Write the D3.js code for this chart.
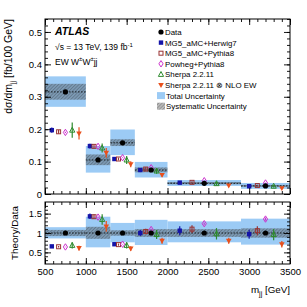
<!DOCTYPE html>
<html><head><meta charset="utf-8">
<script src="https://cdn.jsdelivr.net/npm/d3@7"></script>
<style>
body{margin:0;background:#fff}
svg{display:block}
text{font-family:"Liberation Sans",Arial,Helvetica,sans-serif;fill:#000}
</style>
</head><body>
<svg id="c" width="307" height="307"></svg>
<script>
// ---------- data ----------
const binEdges = [500, 1000, 1300, 1600, 2000, 2900, 3500];
const xTicks = [500, 1000, 1500, 2000, 2500, 3000, 3500];
const yTopTicks = [0, 0.1, 0.2, 0.3, 0.4, 0.5];
const yRatioTicks = [0.5, 1, 1.5];

const dataVals = [0.315, 0.105, 0.158, 0.074, 0.033, 0.025];
const totalLo  = [0.269, 0.066, 0.120, 0.051, 0.025, 0.016];
const totalHi  = [0.363, 0.148, 0.199, 0.099, 0.043, 0.034];
const sysLo    = [0.291, 0.089, 0.148, 0.067, 0.030, 0.022];
const sysHi    = [0.340, 0.122, 0.169, 0.082, 0.037, 0.028];

const ratioTotalLo = [0.86, 0.63, 0.76, 0.69, 0.76, 0.70];
const ratioTotalHi = [1.15, 1.42, 1.26, 1.34, 1.30, 1.37];
const ratioSysLo   = [0.92, 0.85, 0.93, 0.90, 0.90, 0.88];
const ratioSysHi   = [1.08, 1.16, 1.07, 1.10, 1.10, 1.12];

const modelNames = ["MG5_aMC+Herwig7", "MG5_aMC+Pythia8", "Powheg+Pythia8", "Sherpa 2.2.11", "Sherpa 2.2.11 \u2297 NLO EW"];
const herwig = [0.197, 0.148, 0.108, 0.074, 0.035, 0.024];
const pythia = [0.192, 0.147, 0.108, 0.077, 0.036, 0.026];
const powheg = [0.190, 0.147, 0.112, 0.081, 0.041, 0.034];
const sherpa = [0.197, 0.142, 0.105, 0.071, 0.032, 0.024];
const nloew  = [0.187, 0.127, 0.092, 0.059, 0.026, 0.018];

const herwigRatio = [0.655, 1.43, 0.71, 1.00, 1.06, 0.97];
const pythiaRatio = [0.645, 1.42, 0.70, 1.04, 1.10, 1.06];
const powhegRatio = [0.640, 1.41, 0.71, 1.09, 1.24, 1.36];
const sherpaRatio = [0.680, 1.35, 0.68, 0.96, 0.98, 0.96];
const nloewRatio  = [0.610, 1.17, 0.60, 0.80, 0.80, 0.71];

// relative uncertainties of predictions
const herwigErr = [0.04, 0.05, 0.05, 0.08, 0.11, 0.12];
const pythiaErr = [0.03, 0.04, 0.04, 0.07, 0.09, 0.11];
const powhegErr = [0.01, 0.01, 0.01, 0.02, 0.02, 0.03];
const sherpaErr = [0.12, 0.10, 0.12, 0.12, 0.15, 0.15];
const nloewErr  = [0.10, 0.12, 0.10, 0.10, 0.10, 0.12];

// ---------- style ----------
const colors = ["#1414a8", "#993333", "#cc33cc", "#2e8b2e", "#e8501c"];
const shapes = ["squareFilled", "squareOpen", "diamondOpen", "triUpOpen", "triDownFilled"];
const blue = "#9ccbf5";

const models = modelNames.map((n, i) => ({
  name: n, color: colors[i], shape: shapes[i],
  vals: [herwig, pythia, powheg, sherpa, nloew][i],
  ratio: [herwigRatio, pythiaRatio, powhegRatio, sherpaRatio, nloewRatio][i],
  err: [herwigErr, pythiaErr, powhegErr, sherpaErr, nloewErr][i]
}));

const bins = d3.range(dataVals.length).map(i => ({lo: binEdges[i], hi: binEdges[i + 1]}));

const svg = d3.select("#c");
const defs = svg.append("defs");
const pat = defs.append("pattern").attr("id", "hatch").attr("patternUnits", "userSpaceOnUse")
  .attr("width", 2.4).attr("height", 2.4).attr("patternTransform", "rotate(45)");
pat.append("rect").attr("width", 2.4).attr("height", 2.4).attr("fill", "rgba(70,70,70,0.38)");
pat.append("line").attr("x1", 0).attr("y1", 0).attr("x2", 0).attr("y2", 2.4)
  .attr("stroke", "rgba(20,20,20,0.45)").attr("stroke-width", 0.9);

const L = 45, R = 290;
const x = d3.scaleLinear().domain([500, 3500]).range([L, R]);
const yT = d3.scaleLinear().domain([0, 0.54]).range([194, 19]);
const yR = d3.scaleLinear().domain([0.2, 1.8]).range([264, 202]);

function marker(g, shape, cx, cy, color) {
  const t = `translate(${cx},${cy})`;
  switch (shape) {
    case "circle": g.append("circle").attr("cx", cx).attr("cy", cy).attr("r", 2.6).attr("fill", "#000"); break;
    case "squareFilled": g.append("rect").attr("x", cx - 2.2).attr("y", cy - 2.2).attr("width", 4.4).attr("height", 4.4).attr("fill", color); break;
    case "squareOpen": g.append("rect").attr("x", cx - 2).attr("y", cy - 2).attr("width", 4).attr("height", 4).attr("fill", "none").attr("stroke", color).attr("stroke-width", 1); break;
    case "diamondOpen": g.append("path").attr("transform", t).attr("d", "M0,-3.2L2.1,0L0,3.2L-2.1,0Z").attr("fill", "none").attr("stroke", color).attr("stroke-width", 1); break;
    case "triUpOpen": g.append("path").attr("transform", t).attr("d", "M0,-2.9L2.6,2L-2.6,2Z").attr("fill", "none").attr("stroke", color).attr("stroke-width", 1); break;
    case "triDownFilled": g.append("path").attr("transform", t).attr("d", "M0,2.9L2.8,-2L-2.8,-2Z").attr("fill", color); break;
  }
}

function drawPanel(yS, lo, hi, slo, shi, center, mvals) {
  const g = svg.append("g");
  g.selectAll(".tot").data(bins).join("rect")
    .attr("x", d => x(d.lo)).attr("width", d => x(d.hi) - x(d.lo))
    .attr("y", (d, i) => yS(hi[i])).attr("height", (d, i) => yS(lo[i]) - yS(hi[i]))
    .attr("fill", blue);
  g.selectAll(".sys").data(bins).join("rect")
    .attr("x", d => x(d.lo)).attr("width", d => x(d.hi) - x(d.lo))
    .attr("y", (d, i) => yS(shi[i])).attr("height", (d, i) => yS(slo[i]) - yS(shi[i]))
    .attr("fill", "url(#hatch)");
  g.selectAll(".dl").data(bins).join("line")
    .attr("x1", d => x(d.lo)).attr("x2", d => x(d.hi))
    .attr("y1", (d, i) => yS(center[i])).attr("y2", (d, i) => yS(center[i]))
    .attr("stroke", "#000").attr("stroke-width", 0.8).attr("stroke-dasharray", "1.6,1.4");
  models.forEach((m, k) => {
    const vals = mvals(m);
    bins.forEach((b, i) => {
      const px = x(b.lo + (k + 1) / 6 * (b.hi - b.lo));
      const v = vals[i], e = v * m.err[i];
      g.append("line").attr("x1", px).attr("x2", px).attr("y1", yS(v + e)).attr("y2", yS(v - e))
        .attr("stroke", m.color).attr("stroke-width", 1.2);
      marker(g, m.shape, px, yS(v), m.color);
    });
  });
  bins.forEach((b, i) => marker(g, "circle", x((b.lo + b.hi) / 2), yS(center[i]), "#000"));
}

drawPanel(yT, totalLo, totalHi, sysLo, sysHi, dataVals, m => m.vals);
drawPanel(yR, ratioTotalLo, ratioTotalHi, ratioSysLo, ratioSysHi, dataVals.map(() => 1), m => m.ratio);

// ---------- axes ----------
function frame(yS, top, bottom, yMajor, yMinor, showX) {
  const ax = svg.append("g");
  const minorX = d3.range(500, 3501, 100);
  const add = (axis, tr, labels) => {
    const a = ax.append("g").attr("transform", tr).call(axis);
    a.select(".domain").remove();
    a.selectAll("text").attr("font-family", '"Liberation Sans",Arial,sans-serif').attr("font-size", 9.5);
    if (!labels) a.selectAll("text").remove();
    a.selectAll("line").attr("stroke-width", 0.9);
    return a;
  };
  add(d3.axisBottom(x).tickValues(xTicks).tickSize(-6).tickSizeOuter(0).tickPadding(4).tickFormat(d3.format("d")), `translate(0,${bottom})`, showX);
  add(d3.axisBottom(x).tickValues(minorX).tickSize(-3).tickSizeOuter(0).tickFormat(""), `translate(0,${bottom})`, false);
  add(d3.axisTop(x).tickValues(xTicks).tickSize(-6).tickSizeOuter(0), `translate(0,${top})`, false);
  add(d3.axisTop(x).tickValues(minorX).tickSize(-3).tickSizeOuter(0).tickFormat(""), `translate(0,${top})`, false);
  add(d3.axisLeft(yS).tickValues(yMajor).tickSize(-6).tickSizeOuter(0).tickPadding(3).tickFormat(d3.format("~g")), `translate(${L},0)`, true);
  add(d3.axisLeft(yS).tickValues(yMinor).tickSize(-3).tickSizeOuter(0).tickFormat(""), `translate(${L},0)`, false);
  add(d3.axisRight(yS).tickValues(yMajor).tickSize(-6).tickSizeOuter(0), `translate(${R},0)`, false);
  add(d3.axisRight(yS).tickValues(yMinor).tickSize(-3).tickSizeOuter(0).tickFormat(""), `translate(${R},0)`, false);
  svg.append("rect").attr("x", L).attr("y", top).attr("width", R - L).attr("height", bottom - top)
    .attr("fill", "none").attr("stroke", "#000").attr("stroke-width", 1);
}
frame(yT, 19, 194, yTopTicks, d3.range(0, 0.541, 0.02), false);
frame(yR, 202, 264, yRatioTicks, d3.range(0.3, 1.75, 0.1), true);

// ---------- titles ----------
const yt = svg.append("text").attr("transform", "translate(12,19) rotate(-90)")
  .attr("text-anchor", "end").attr("font-size", 10.5);
yt.append("tspan").text("d\u03c3/dm");
yt.append("tspan").attr("font-size", 7).attr("dy", 2.5).text("jj");
yt.append("tspan").attr("dy", -2.5).text(" [fb/100 GeV]");

svg.append("text").attr("transform", "translate(18,233) rotate(-90)")
  .attr("text-anchor", "middle").attr("font-size", 9.8).text("Theory/Data");

const xt = svg.append("text").attr("x", 290).attr("y", 293).attr("text-anchor", "end").attr("font-size", 9.8);
xt.append("tspan").text("m");
xt.append("tspan").attr("font-size", 7).attr("dy", 2.5).text("jj");
xt.append("tspan").attr("dy", -2.5).text(" [GeV]");

svg.append("text").attr("x", 55).attr("y", 35).attr("font-size", 10.5)
  .attr("font-weight", "bold").attr("font-style", "italic").text("ATLAS");
const s1 = svg.append("text").attr("x", 55).attr("y", 50).attr("font-size", 8.5);
s1.append("tspan").text("\u221As = 13 TeV, 139 fb");
s1.append("tspan").attr("font-size", 6).attr("dy", -3.5).text("-1");
const s2 = svg.append("text").attr("x", 55).attr("y", 64.5).attr("font-size", 8.5);
s2.append("tspan").text("EW W");
s2.append("tspan").attr("font-size", 6).attr("dy", -3.5).text("\u00b1");
s2.append("tspan").attr("dy", 3.5).text("W");
s2.append("tspan").attr("font-size", 6).attr("dy", -3.5).text("\u00b1");
s2.append("tspan").attr("dy", 3.5).text("jj");

// ---------- legend ----------
const lg = svg.append("g");
const ly0 = 32, ldy = 10.6, lx = 161, ltx = 165;
const entries = [{name: "Data", shape: "circle", color: "#000"}]
  .concat(models.map(m => ({name: m.name, shape: m.shape, color: m.color})));
entries.forEach((e, i) => {
  const yy = ly0 + i * ldy;
  marker(lg, e.shape, lx, yy, e.color);
  lg.append("text").attr("x", ltx).attr("y", yy + 2.9).attr("font-size", 7.9).text(e.name);
});
const yTot = ly0 + 6 * ldy, ySys = ly0 + 7 * ldy;
lg.append("rect").attr("x", 157).attr("y", yTot - 3.5).attr("width", 8).attr("height", 7).attr("fill", blue);
lg.append("text").attr("x", ltx + 1).attr("y", yTot + 2.9).attr("font-size", 7.9).text("Total Uncertainty");
lg.append("rect").attr("x", 157).attr("y", ySys - 3.5).attr("width", 8).attr("height", 7).attr("fill", "url(#hatch)");
lg.append("text").attr("x", ltx + 1).attr("y", ySys + 2.9).attr("font-size", 7.9).text("Systematic Uncertainty");
</script>
</body></html>
